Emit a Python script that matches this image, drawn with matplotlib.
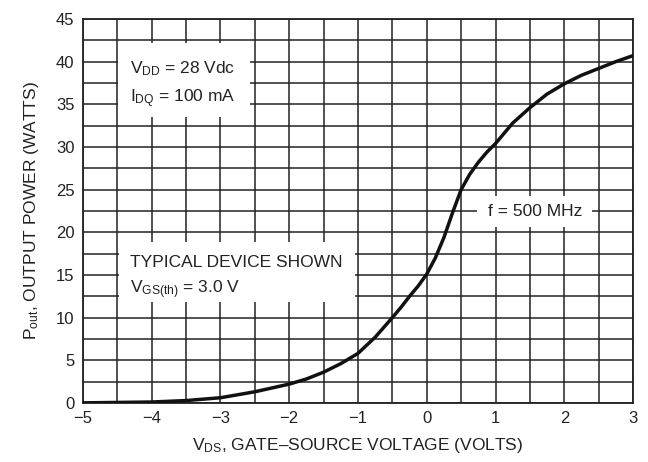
import matplotlib
matplotlib.use("Agg")
import matplotlib.pyplot as plt
from matplotlib.patches import Rectangle

# Pout vs VGS
vgs = [-5, -4.5, -4, -3.5, -3, -2.5, -2, -1.75, -1.5, -1.25, -1, -0.75, -0.5,
       -0.375, -0.25, -0.125, 0, 0.125, 0.25, 0.375, 0.5, 0.625, 0.75, 0.875,
       1, 1.25, 1.5, 1.75, 2, 2.25, 2.5, 2.75, 3]
pout = [0.0, 0.05, 0.1, 0.27, 0.6, 1.3, 2.2, 2.8, 3.6, 4.6, 5.8, 7.7, 10.0,
        11.2, 12.5, 13.7, 15.1, 17.0, 19.4, 22.3, 25.0, 26.8, 28.2, 29.4,
        30.4, 32.8, 34.6, 36.2, 37.4, 38.4, 39.2, 40.0, 40.7]

x_ticks = [-5, -4, -3, -2, -1, 0, 1, 2, 3]
x_tick_labels = ["\u22125", "\u22124", "\u22123", "\u22122", "\u22121", "0", "1", "2", "3"]
y_ticks = [0, 5, 10, 15, 20, 25, 30, 35, 40, 45]

plt.rcParams["font.family"] = ["Liberation Sans", "DejaVu Sans"]
plt.rcParams["mathtext.fontset"] = "custom"
plt.rcParams["mathtext.rm"] = "Liberation Sans"
plt.rcParams["mathtext.default"] = "rm"

ink = "#222222"

fig = plt.figure(figsize=(6.48, 4.62), dpi=100)
ax = fig.add_axes([0.128, 0.128, 0.849, 0.831])

ax.set_xlim(-5, 3)
ax.set_ylim(0, 45)
ax.set_xticks(x_ticks)
ax.set_xticklabels(x_tick_labels)
ax.set_yticks(y_ticks)
ax.set_xticks([v + 0.5 for v in x_ticks[:-1]], minor=True)
ax.set_yticks([v + 2.5 for v in y_ticks[:-1]], minor=True)
ax.tick_params(which="both", length=0, labelsize=12, pad=6, labelcolor=ink)
ax.grid(which="both", color=ink, linewidth=1.1)
ax.set_axisbelow(True)
for sp in ax.spines.values():
    sp.set_linewidth(1.3)
    sp.set_color(ink)

# white label boxes that knock out the grid
for (x0, y0, w, h) in [(-4.49, 33.5, 1.92, 8.7),
                       (-4.47, 11.8, 3.42, 7.0),
                       (0.73, 20.6, 1.67, 3.6)]:
    ax.add_patch(Rectangle((x0, y0), w, h, facecolor="white",
                           edgecolor="none", zorder=1.5))

ax.plot(vgs, pout, color="#111111", linewidth=2.5, zorder=3)

txt = dict(fontsize=12.5, color=ink, zorder=4)
ax.text(-4.32, 38.6, r"V$_{\mathrm{DD}}$ = 28 Vdc", va="baseline", **txt)
ax.text(-4.32, 35.2, r"I$_{\mathrm{DQ}}$ = 100 mA", va="baseline", **txt)
ax.text(-4.32, 15.9, "TYPICAL DEVICE SHOWN", va="baseline", **txt)
ax.text(-4.32, 12.8, r"V$_{\mathrm{GS(th)}}$ = 3.0 V", va="baseline", **txt)
ax.text(1.57, 22.4, "f = 500 MHz", ha="center", va="center", **txt)

ax.set_xlabel("V$_{\\mathrm{DS}}$, GATE\u2013SOURCE VOLTAGE (VOLTS)",
              fontsize=12.5, color=ink, labelpad=7)
ax.set_ylabel("P$_{\\mathrm{out}}$, OUTPUT POWER (WATTS)",
              fontsize=12.5, color=ink, labelpad=11)

fig.savefig("out.png", dpi=100)
